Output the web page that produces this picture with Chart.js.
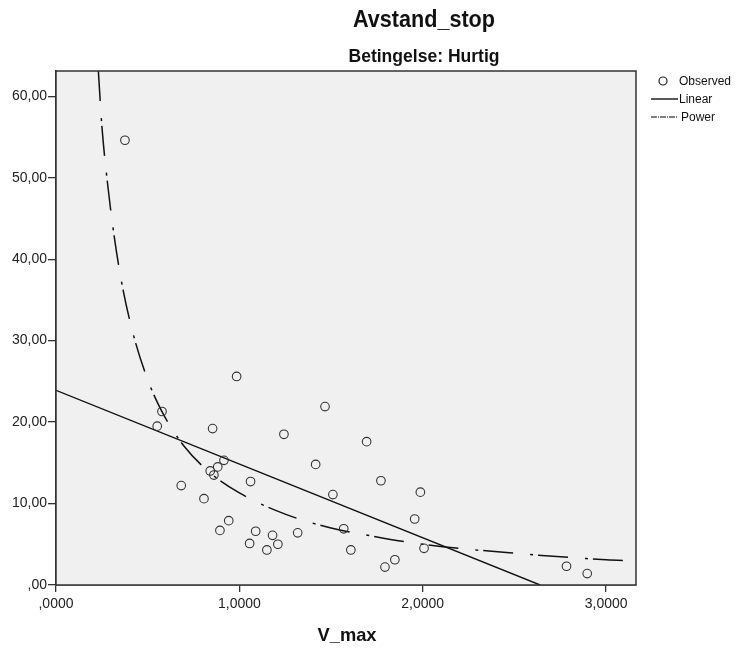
<!DOCTYPE html>
<html>
<head>
<meta charset="utf-8">
<script src="https://cdn.jsdelivr.net/npm/chart.js@4.4.1/dist/chart.umd.min.js"></script>
<style>
  body { margin: 0; background: #fff; }
  #wrap { width: 749px; height: 650px; }
</style>
</head>
<body>
<div id="wrap"><canvas id="plot"></canvas></div>
<script>
// observed points (V_max, Avstand_stop)
const obsX = [0.376, 0.985, 0.578, 0.552, 0.854, 0.916, 0.882, 0.841, 0.861, 0.683, 0.807, 0.942, 0.894,
  1.467, 1.243, 1.694, 1.416, 1.772, 1.061, 1.987, 1.510, 1.956, 1.089, 1.318, 1.181, 1.569,
  1.056, 1.210, 1.150, 1.608, 2.007, 1.848, 1.794, 2.784, 2.897]
const obsY = [54.6, 25.6, 21.3, 19.5, 19.2, 15.3, 14.5, 14.0, 13.5, 12.2, 10.6, 7.9, 6.7,
  21.9, 18.5, 17.6, 14.8, 12.8, 12.7, 11.4, 11.1, 8.1, 6.6, 6.4, 6.1, 6.9,
  5.1, 5.0, 4.3, 4.3, 4.5, 3.1, 2.2, 2.3, 1.4]

// linear fit, end points
const linX = [0, 2.64]
const linY = [23.9, 0]

// power fit, points
const powX = [0.231, 0.25, 0.28, 0.32, 0.36, 0.42, 0.5, 0.58, 0.7, 0.85, 1.0, 1.25, 1.5, 1.75, 2.0, 2.5, 3.0, 3.163]
const powY = [63.1, 56.4, 49.5, 42.4, 36.9, 30.9, 25.2, 21.2, 17.0, 13.6, 11.3, 8.7, 7.0, 5.9, 5.0, 3.9, 3.1, 2.95]

const xTicks = [0, 1, 2, 3]
const yTicks = [0, 10, 20, 30, 40, 50, 60]

const FONT = "'Liberation Sans', Arial, sans-serif"
const DASH = [30, 17, 3, 5]

function fmt(v, dec) {
  let s = v.toFixed(dec).replace('.', ',')
  if (s.startsWith('0,')) s = s.slice(1)
  return s
}

const pts = (xs, ys) => xs.map((x, i) => ({x: x, y: ys[i]}))

// draw text centred at cx, squeezed to a given width
function fitText(c, txt, cx, cy, font, w) {
  c.save()
  c.font = font
  const k = w / c.measureText(txt).width
  c.translate(cx, cy)
  c.scale(k, 1)
  c.textAlign = 'center'
  c.textBaseline = 'alphabetic'
  c.fillText(txt, 0, 0)
  c.restore()
}

const decor = {
  id: 'decor',
  beforeDatasetsDraw(chart) {
    const c = chart.ctx, a = chart.chartArea
    c.save()
    c.fillStyle = '#f0f0f0'
    c.fillRect(a.left, a.top, a.right - a.left, a.bottom - a.top)
    c.restore()
  },
  afterDraw(chart) {
    const c = chart.ctx, a = chart.chartArea
    c.save()
    c.strokeStyle = '#333'
    c.lineWidth = 1.5
    c.strokeRect(a.left, a.top, a.right - a.left, a.bottom - a.top)

    c.fillStyle = '#111'
    fitText(c, 'Avstand_stop', 424, 27, 'bold 23px ' + FONT, 142)
    fitText(c, 'Betingelse: Hurtig', 424, 62, 'bold 19px ' + FONT, 151)
    fitText(c, 'V_max', 347, 641, 'bold 19px ' + FONT, 59)

    // legend
    c.textAlign = 'left'
    c.textBaseline = 'middle'
    c.font = '12px ' + FONT
    c.strokeStyle = '#222'
    c.lineWidth = 1.2
    c.beginPath()
    c.arc(663, 81, 4, 0, Math.PI * 2)
    c.stroke()
    c.fillText('Observed', 679, 82)
    c.lineWidth = 1.5
    c.beginPath()
    c.moveTo(651, 99); c.lineTo(678, 99)
    c.stroke()
    c.fillText('Linear', 679, 100)
    c.strokeStyle = '#555'
    c.setLineDash([6, 1, 1, 1])
    c.beginPath()
    c.moveTo(651, 117); c.lineTo(678, 117)
    c.stroke()
    c.setLineDash([])
    c.fillText('Power', 681, 118)
    c.restore()
  }
}

new Chart(document.getElementById('plot'), {
  type: 'scatter',
  data: {
    datasets: [
      {
        label: 'Observed',
        data: pts(obsX, obsY),
        pointRadius: 4.3,
        pointBorderWidth: 1.1,
        pointBorderColor: '#333',
        pointBackgroundColor: 'rgba(0,0,0,0)',
        order: 1
      },
      {
        label: 'Linear',
        data: pts(linX, linY),
        showLine: true,
        pointRadius: 0,
        borderColor: '#111',
        borderWidth: 1.4,
        order: 2
      },
      {
        label: 'Power',
        data: pts(powX, powY),
        showLine: true,
        cubicInterpolationMode: 'monotone',
        pointRadius: 0,
        borderColor: '#111',
        borderWidth: 1.5,
        borderDash: DASH,
        order: 3
      }
    ]
  },
  options: {
    responsive: true,
    maintainAspectRatio: false,
    animation: false,
    layout: { padding: { top: 71, right: 113, left: 0, bottom: 0 } },
    plugins: { legend: { display: false }, tooltip: { enabled: false } },
    scales: {
      x: {
        type: 'linear',
        min: 0,
        max: 3.163,
        afterBuildTicks: s => { s.ticks = xTicks.map(v => ({value: v})) },
        afterFit: s => { s.height = 65 },
        grid: { drawOnChartArea: false, drawTicks: true, tickLength: 7, color: '#333', lineWidth: 1.3 },
        border: { display: true, color: '#333', width: 1.5 },
        ticks: {
          color: '#222',
          font: { family: FONT, size: 14 },
          padding: 4,
          maxRotation: 0,
          callback: v => fmt(v, 4)
        }
      },
      y: {
        type: 'linear',
        min: 0,
        max: 63.1,
        afterBuildTicks: s => { s.ticks = yTicks.map(v => ({value: v})) },
        afterFit: s => { s.width = 56 },
        grid: { drawOnChartArea: false, drawTicks: true, tickLength: 8, color: '#333', lineWidth: 1.3 },
        border: { display: true, color: '#333', width: 1.5 },
        ticks: {
          color: '#222',
          font: { family: FONT, size: 14 },
          padding: 1,
          callback: v => fmt(v, 2)
        }
      }
    }
  },
  plugins: [decor]
})
</script>
</body>
</html>
